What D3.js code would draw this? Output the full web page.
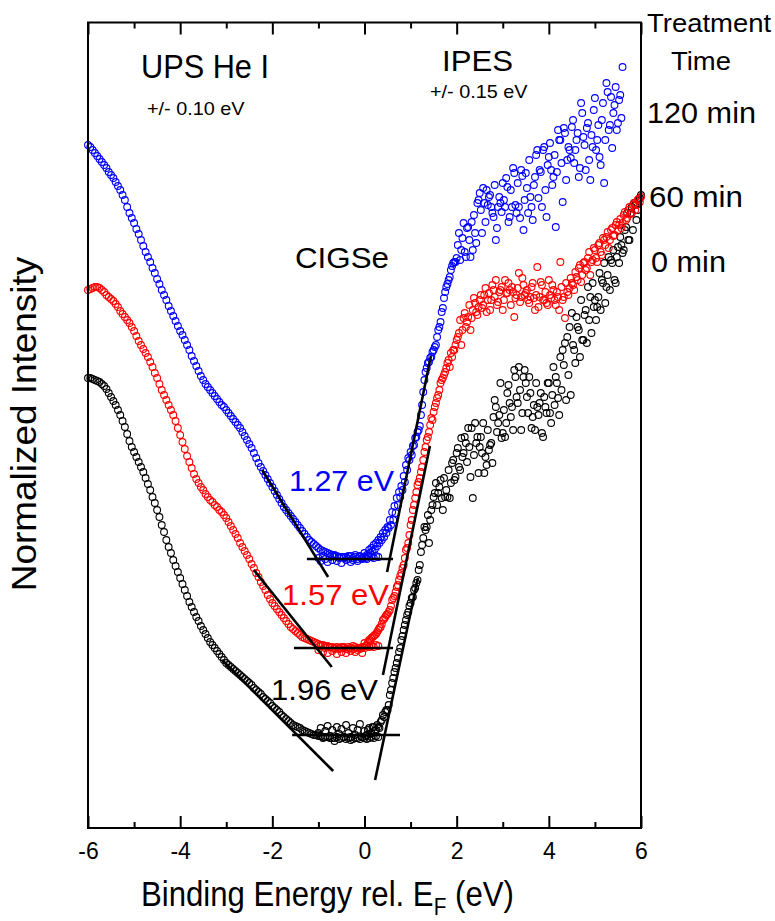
<!DOCTYPE html>
<html lang="en">
<head>
<meta charset="UTF-8">
<title>CIGSe UPS / IPES</title>
<script src="https://d3js.org/d3.v7.min.js"></script>
<style>
  body { margin: 0; background: #fff; }
  svg { display: block; font-family: Arial, "Liberation Sans", sans-serif; }
</style>
</head>
<body>
<script>
// energy grids: UPS -6.00..0.30 eV, IPES scan A from -1.00 eV, scan B from 0.025 eV, 0.05 eV steps
const upsStart = -6.0, ipesStartA = -1.0, ipesStartB = 0.025, step = 0.05;

// intensities (arb. units)
const ups0 = [450,450,449,448,447,446,444,442,439,435,431,427,423,418,413,407,401,394,387,381,
  376,371,366,361,356,350,344,338,331,325,318,311,303,296,288,281,275,268,262,256,
  250,244,238,232,226,221,216,211,207,202,198,194,190,186,183,180,177,174,171,168,
  165,163,161,159,157,155,153,151,149,147,145,143,140,138,136,134,131,129,127,125,
  122,120,118,116,113,111,109,107,105,103,102,101,100,98,97,96,95,94,93,93,
  92,92,91,91,91,90,90,90,91,89,90,91,89,90,91,89,90,90,89,91,
  90,89,90,91,90,92,91];
const ups60 = [538,539,540,541,541,540,538,536,533,531,529,527,524,521,517,514,511,508,505,501,
  497,492,487,483,479,475,471,466,461,455,450,444,438,433,428,423,418,413,407,400,
  393,386,379,372,366,360,354,349,345,341,338,334,331,328,326,323,321,318,316,313,
  310,306,302,298,294,290,285,281,277,273,269,264,260,255,251,246,242,238,233,229,
  225,222,219,216,213,210,207,204,201,199,197,195,193,191,190,189,188,187,186,185,
  184,183,183,182,182,181,181,180,181,179,181,180,179,181,180,179,181,180,179,181,
  180,182,181,182,181,183,182];
const ups120 = [683,681,678,675,672,669,666,663,660,656,653,650,646,642,638,633,628,621,615,610,
  605,599,594,588,582,576,571,566,560,555,549,544,538,533,528,522,517,512,507,502,
  497,493,488,483,478,472,467,462,457,452,448,444,441,438,435,432,429,426,423,421,
  418,415,412,409,406,403,400,396,392,388,384,380,375,370,365,361,357,353,349,345,
  341,337,333,329,325,321,318,315,312,309,306,303,300,297,294,291,288,286,284,282,
  280,278,277,276,275,274,273,272,272,271,271,270,271,269,272,268,271,269,272,270,
  271,269,272,271,270,272,271];

const ipes0A = [95,100,90,97,102,92,98,87,101,94,99,91,103,95,88,100,93,98,104,91,
  97,93,100,95,101,98,101,106,113,116,118,133,145,156,165,176,188,198,208,216,
  225,231,240,248,263,283,301,301,285,318,331,345,335,348,318,331,331,330,365,348,
  375,361,390,375,385,400,351,330,405,391,381,375,355,363,378,385,411,421,405,445,
  395,391,435,425,421,458,431,461,398,451,445,415,435,411,398,421,425,395,431,415,
  445,405,461,451,430,471,478,485,491,501,515,478,511,498,528,488,518,541,531,545,
  528,521,555,548,565,541,571,568,578,545,581,591,575,598,615,588,621,625,608,628,
  633];
const ipes0B = [92,98,94,101,97,103,100,108,111,118,123,138,150,160,170,180,192,203,213,222,
  230,238,245,258,276,290,298,313,308,323,335,323,341,330,350,338,358,345,368,351,
  380,358,371,391,366,381,400,373,385,355,391,405,371,398,383,365,428,396,413,390,
  418,405,443,411,398,451,425,438,415,458,431,451,400,423,445,413,435,391,421,445,
  415,433,423,445,413,438,463,428,453,433,483,465,501,471,488,513,485,508,495,521,
  508,531,518,545,525,553,538,565,548,571,565,583,578,601,588,615,598,623,618,630];
const ipes60A = [178,182,176,180,175,181,177,179,174,180,176,181,175,179,177,182,176,178,180,175,
  185,183,188,190,192,194,198,201,208,211,214,218,228,232,241,248,255,263,278,285,
  303,318,330,343,350,361,376,388,396,410,416,425,433,445,450,456,465,461,471,478,
  488,495,483,510,501,511,498,518,525,513,528,520,533,516,535,528,538,548,526,538,
  518,548,535,538,541,511,533,555,531,543,535,528,531,545,518,561,531,543,528,525,
  548,530,538,523,531,566,528,510,536,540,545,538,551,560,546,565,558,570,553,568,
  578,566,585,573,588,591,580,598,592,603,598,609,605,616,610,621,615,625,623,629,
  631];
const ipes60B = [182,186,187,191,193,196,200,204,209,213,216,222,230,236,243,252,260,270,280,293,
  308,323,336,346,356,368,381,391,403,408,421,430,438,448,453,460,468,475,478,483,
  491,508,498,515,506,523,510,530,516,521,533,523,540,528,518,543,531,523,536,541,
  528,535,545,523,536,530,540,526,550,533,538,525,541,530,533,521,546,528,536,523,
  533,543,528,536,518,541,531,545,533,550,543,556,548,563,553,566,560,576,566,580,
  570,583,576,590,583,596,588,600,593,606,603,600,613,608,618,614,623,618,628,626];
const ipes120A = [270,267,272,269,266,271,268,273,267,270,265,271,268,272,266,270,273,267,271,269,
  275,273,278,280,283,285,288,291,295,298,301,308,316,322,330,336,342,352,363,370,
  376,382,390,396,402,423,448,460,466,471,478,483,498,506,520,536,544,551,562,566,
  570,595,578,605,571,601,571,578,595,625,635,595,625,638,631,621,611,588,621,625,
  645,621,641,611,621,655,615,621,658,598,655,615,631,608,651,678,658,621,681,611,
  671,658,651,601,698,688,626,695,668,678,701,665,688,651,725,691,658,705,648,681,
  730,688,671,708,645,745,698,731,715,741,705,733,761];
const ipes120B = [270,272,275,277,279,282,285,288,291,295,300,303,308,315,323,331,338,346,358,368,
  373,383,391,398,413,436,456,465,470,476,481,491,501,516,530,541,548,558,565,566,
  583,568,590,576,600,588,606,613,585,628,618,640,606,623,633,615,643,600,631,616,
  628,650,606,638,660,623,645,610,652,628,640,668,621,643,673,630,656,678,638,663,
  685,643,673,656,688,665,700,648,681,670,708,678,695,660,715,683,700,668,693,718,
  678,703,663,725,688,736,703,680,723,698,728,710];

// edge / background lines [[E1, I1], [E2, I2]]
const edgeLines = [
  [[-3.09, 168], [-0.68, 57]], [[-1.57, 93], [0.77, 93]], [[0.23, 48], [1.16, 250]],
  [[-2.40, 258], [-0.71, 161]], [[-1.53, 180], [0.62, 180]], [[0.40, 153], [1.42, 382]],
  [[-2.22, 358], [-0.79, 251]], [[-1.25, 269], [0.62, 269]], [[0.49, 256], [1.44, 472]]
];

const colors = ["#000000", "#ff0000", "#0000ff"];
const treatTimes = ["0 min", "60 min", "120 min"];
const gaps = ["1.96 eV", "1.57 eV", "1.27 eV"];
const majorTicks = [-6, -4, -2, 0, 2, 4, 6];
const minorTicks = [-5, -3, -1, 1, 3, 5];

const width = 775, height = 921;
const m = { left: 88, right: 641, top: 22.5, bottom: 828 };

const x = d3.scaleLinear().domain([-6, 6]).range([m.left, m.right]);
const y = d3.scaleLinear().domain([0, 805.5]).range([m.bottom, m.top]);

const svg = d3.select("body").append("svg")
  .attr("width", width)
  .attr("height", height);

// spectra
const series = [
  { ups: ups0, a: ipes0A, b: ipes0B },
  { ups: ups60, a: ipes60A, b: ipes60B },
  { ups: ups120, a: ipes120A, b: ipes120B }
];
const toPoints = (vals, start) => vals.map((v, i) => [start + i * step, v]);

series.forEach((s, k) => {
  const pts = toPoints(s.ups, upsStart)
    .concat(toPoints(s.a, ipesStartA), toPoints(s.b, ipesStartB));
  svg.append("g")
    .selectAll("circle")
    .data(pts)
    .join("circle")
    .attr("cx", d => x(d[0]))
    .attr("cy", d => y(d[1]))
    .attr("r", 3.4)
    .attr("fill", "none")
    .attr("stroke", colors[k])
    .attr("stroke-width", 1.1);
});

svg.append("g")
  .selectAll("line")
  .data(edgeLines)
  .join("line")
  .attr("x1", d => x(d[0][0])).attr("y1", d => y(d[0][1]))
  .attr("x2", d => x(d[1][0])).attr("y2", d => y(d[1][1]))
  .attr("stroke", "#000")
  .attr("stroke-width", 2.6);

// axes
function styleAxis(g) {
  g.attr("font-family", null).attr("font-size", 23);
  g.select(".domain").remove();
  g.selectAll(".tick line").attr("stroke-width", 2);
  g.selectAll(".tick text").attr("fill", "#000");
}
svg.append("g")
  .attr("transform", `translate(0,${m.bottom})`)
  .call(d3.axisBottom(x).tickValues(majorTicks).tickSizeInner(-12).tickSizeOuter(0).tickPadding(15).tickFormat(d => String(d)))
  .call(styleAxis);
svg.append("g")
  .attr("transform", `translate(0,${m.bottom})`)
  .call(d3.axisBottom(x).tickValues(minorTicks).tickSizeInner(-6).tickSizeOuter(0).tickFormat(""))
  .call(styleAxis);
svg.append("g")
  .attr("transform", `translate(0,${m.top})`)
  .call(d3.axisTop(x).tickValues(majorTicks).tickSizeInner(-12).tickSizeOuter(0).tickFormat(""))
  .call(styleAxis);
svg.append("g")
  .attr("transform", `translate(0,${m.top})`)
  .call(d3.axisTop(x).tickValues(minorTicks).tickSizeInner(-6).tickSizeOuter(0).tickFormat(""))
  .call(styleAxis);

svg.append("rect")
  .attr("x", m.left).attr("y", m.top)
  .attr("width", m.right - m.left).attr("height", m.bottom - m.top)
  .attr("fill", "none")
  .attr("stroke", "#000")
  .attr("stroke-width", 2);

// text, squeezed to the widths seen in the figure
function label(txt, px, py, size, w, color) {
  const t = svg.append("text")
    .attr("font-size", size)
    .attr("fill", color || "#000")
    .text(txt);
  const bw = t.node().getBBox().width;
  t.attr("transform", `translate(${px},${py}) scale(${w / bw},1)`);
  return t;
}

label("UPS He I", 141, 78, 33, 128);
label("+/- 0.10 eV", 147, 115, 19, 98);
label("IPES", 442, 71, 30, 71);
label("+/- 0.15 eV", 430, 98, 19, 98);
label("CIGSe", 295, 268, 30, 94);
label("Treatment", 647, 32, 26, 125);
label("Time", 671, 70, 26, 60);
label(treatTimes[2], 647, 123, 30, 109);
label(treatTimes[1], 649, 207, 30, 94);
label(treatTimes[0], 651, 272, 30, 75);
label(gaps[2], 289, 491, 30, 105, colors[2]);
label(gaps[1], 282, 605, 30, 107, colors[1]);
label(gaps[0], 271, 700, 30, 107, colors[0]);

// x title with subscript
const xt = svg.append("text").attr("font-size", 36);
xt.append("tspan").text("Binding Energy rel. E");
xt.append("tspan").attr("font-size", 24).attr("dy", 9).text("F");
xt.append("tspan").attr("dy", -9).text(" (eV)");
const xw = xt.node().getBBox().width;
xt.attr("transform", `translate(141,906) scale(${373 / xw},1)`);

// y title
const yt = svg.append("text")
  .attr("font-size", 35)
  .attr("text-anchor", "middle")
  .text("Normalized Intensity");
const yw = yt.node().getBBox().width;
yt.attr("transform", `translate(36,424) rotate(-90) scale(${335 / yw},1)`);
</script>
</body>
</html>
